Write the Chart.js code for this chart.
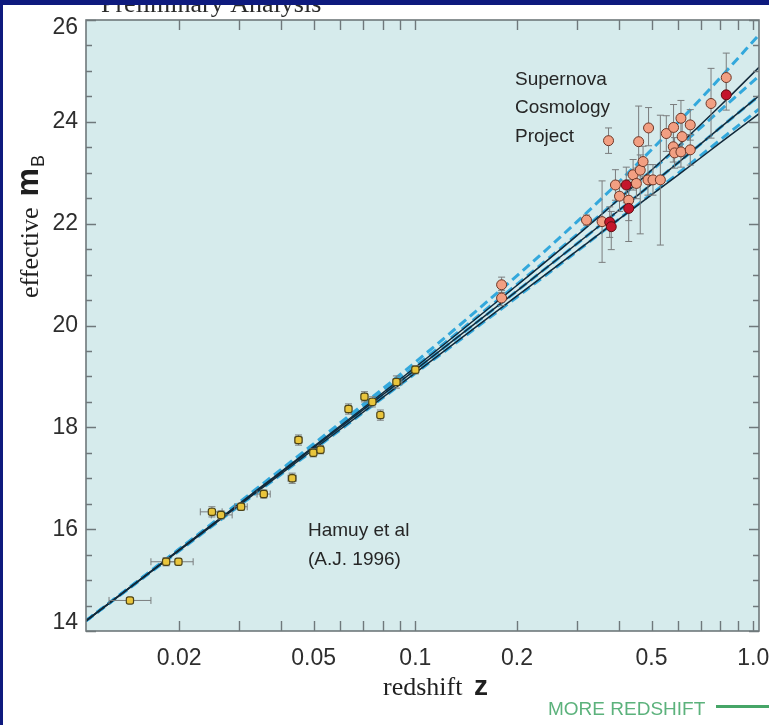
<!DOCTYPE html>
<html>
<head>
<meta charset="utf-8">
<script src="https://cdn.jsdelivr.net/npm/chart.js@4.4.1/dist/chart.umd.min.js"></script>
<style>
  html, body { margin: 0; padding: 0; background: #ffffff; }
  #wrap { position: relative; width: 769px; height: 725px; overflow: hidden; }
  canvas { display: block; }
</style>
</head>
<body>
<div id="wrap"><canvas id="hubble" width="769" height="725"></canvas></div>
<script>
// ---- Model curves (effective m_B versus redshift) ----
const modelZ = [0.0106, 0.03, 0.1, 0.2, 0.3, 0.45, 0.6, 0.8, 1.04];
const mFlatLambda1 = [14.20, 16.52, 19.28, 20.98, 22.03, 23.15, 23.99, 24.87, 25.71]; // (0, 1)
const mFlatHalf = [14.20, 16.50, 19.20, 20.81, 21.78, 22.78, 23.50, 24.23, 24.90];    // (0.5, 0.5)
const mFlatNegLambda = [14.20, 16.45, 19.06, 20.56, 21.45, 22.35, 22.99, 23.65, 24.25]; // (1.5, -0.5)
const mEinsteinDeSitter = [14.20, 16.48, 19.13, 20.68, 21.60, 22.53, 23.20, 23.89, 24.51]; // (1, 0)
const mOpenEmpty = [14.20, 16.49, 19.18, 20.79, 21.76, 22.78, 23.53, 24.32, 25.07];   // (0, 0)
const mClosed2 = [14.20, 16.46, 19.07, 20.58, 21.46, 22.34, 22.96, 23.59, 24.16];     // (2, 0)

// ---- Calan/Tololo low-redshift sample ----
const hamuyZ    = [0.0143, 0.0183, 0.0199, 0.0250, 0.0266, 0.0305, 0.0356, 0.0432, 0.0451, 0.0499, 0.0524, 0.0634, 0.0707, 0.0746, 0.0788, 0.0879, 0.1000];
const hamuyM    = [14.60, 15.36, 15.36, 16.34, 16.28, 16.44, 16.69, 17.00, 17.75, 17.50, 17.56, 18.36, 18.60, 18.50, 18.24, 18.89, 19.13];
const hamuyZLo  = [0.0124, 0.0165, 0.0182, 0.0231, 0.0249, 0.0292, 0.0340, 0.0420, 0.0440, 0.0489, 0.0514, 0.0622, 0.0694, 0.0733, 0.0777, 0.0860, 0.0990];
const hamuyZHi  = [0.0165, 0.0200, 0.0220, 0.0268, 0.0287, 0.0318, 0.0372, 0.0444, 0.0462, 0.0509, 0.0534, 0.0646, 0.0720, 0.0759, 0.0799, 0.0912, 0.1010];
const hamuyMErr = [0.05, 0.08, 0.06, 0.10, 0.08, 0.07, 0.08, 0.10, 0.10, 0.08, 0.08, 0.10, 0.10, 0.10, 0.10, 0.12, 0.08];

// ---- Supernova Cosmology Project sample ----
const scpZ     = [0.180, 0.180, 0.321, 0.357, 0.373, 0.391, 0.402, 0.428, 0.441, 0.451, 0.458, 0.463, 0.472, 0.490, 0.488, 0.505, 0.531, 0.553, 0.581, 0.580, 0.585, 0.611, 0.616, 0.611, 0.651, 0.651, 0.750, 0.832];
const scpM     = [20.80, 20.54, 22.07, 22.04, 23.63, 22.76, 22.54, 22.46, 22.96, 22.79, 23.61, 23.05, 23.22, 23.88, 22.86, 22.86, 22.86, 23.77, 23.89, 23.51, 23.39, 24.07, 23.71, 23.41, 23.94, 23.45, 24.36, 24.87];
const scpErrLo = [0.15, 0.15, 0.10, 0.80, 0.25, 0.30, 0.30, 0.40, 0.30, 0.30, 0.50, 1.25, 0.30, 0.35, 0.30, 0.30, 1.28, 0.35, 0.40, 0.30, 0.30, 0.35, 0.30, 0.30, 0.30, 0.30, 0.68, 0.35];
const scpErrHi = [0.15, 0.15, 0.10, 0.80, 0.25, 0.30, 0.30, 0.40, 0.30, 0.30, 0.70, 0.30, 0.30, 0.40, 0.30, 0.30, 1.27, 0.35, 0.45, 0.30, 0.30, 0.35, 0.30, 0.30, 0.30, 0.30, 0.69, 0.48];

const scpRedZ     = [0.376, 0.380, 0.421, 0.428, 0.832];
const scpRedM     = [22.03, 21.94, 22.76, 22.30, 24.53];
const scpRedErrLo = [0.30, 0.45, 0.35, 0.65, 0.30];
const scpRedErrHi = [0.30, 0.30, 0.35, 0.45, 0.30];

// ---- Axes ----
const xMin = 0.0106, xMax = 1.04;
const yMin = 14, yMax = 26;
const xTickValues = [0.02, 0.03, 0.04, 0.05, 0.06, 0.07, 0.08, 0.09, 0.1, 0.2, 0.3, 0.4, 0.5, 0.6, 0.7, 0.8, 0.9, 1.0];
const xLabelValues = [0.02, 0.05, 0.1, 0.2, 0.5, 1.0];
const xLabelTexts = ['0.02', '0.05', '0.1', '0.2', '0.5', '1.0'];
const yLabelValues = [14, 16, 18, 20, 22, 24, 26];
const yLabelTexts = ['14', '16', '18', '20', '22', '24', '26'];

const SANS = '"Liberation Sans", Arial, sans-serif';
const SERIF = '"Liberation Serif", "Times New Roman", serif';

const pts = (xs, ys) => xs.map((x, i) => ({ x: x, y: ys[i] }));

function curve(label, ys, color, width, dash, order) {
  return {
    label: label, data: pts(modelZ, ys), showLine: true, borderColor: color,
    borderWidth: width, borderDash: dash, pointRadius: 0, pointHoverRadius: 0,
    cubicInterpolationMode: 'monotone', fill: false, order: order
  };
}

const DASH = '#33a8dc';
const SOLID = '#12293a';

const datasets = [
  curve('Ω=(0,1)', mFlatLambda1, DASH, 3, [9, 5], 9),
  curve('Ω=(0.5,0.5)', mFlatHalf, DASH, 3, [9, 5], 9),
  curve('Ω=(1,0) flat', mEinsteinDeSitter, DASH, 3, [9, 5], 9),
  curve('Ω=(1.5,-0.5)', mFlatNegLambda, DASH, 3, [9, 5], 9),
  curve('Ω=(0,0)', mOpenEmpty, SOLID, 1.5, [], 8),
  curve('Ω=(1,0)', mEinsteinDeSitter, SOLID, 1.5, [], 8),
  curve('Ω=(2,0)', mClosed2, SOLID, 1.5, [], 8),
  {
    label: 'Hamuy et al', data: pts(hamuyZ, hamuyM), pointStyle: 'rectRounded',
    pointRadius: 4.2, backgroundColor: '#e9c53c', borderColor: '#4d4418', borderWidth: 1.2, order: 3
  },
  {
    label: 'SCP', data: pts(scpZ, scpM), pointStyle: 'circle',
    pointRadius: 5, backgroundColor: '#f29f82', borderColor: '#6e3626', borderWidth: 1, order: 2
  },
  {
    label: 'SCP (red)', data: pts(scpRedZ, scpRedM), pointStyle: 'circle',
    pointRadius: 5, backgroundColor: '#c4162c', borderColor: '#5e0f12', borderWidth: 1, order: 1
  }
];
const HAMUY_INDEX = 7;

// Error bars, drawn just before the first point set so markers sit on top.
let barsDone = false;
const errorBars = {
  id: 'errorBars',
  beforeDatasetsDraw() { barsDone = false; },
  beforeDatasetDraw(chart, args) {
    if (barsDone || args.index < HAMUY_INDEX) return;
    barsDone = true;
    const { ctx, chartArea: a } = chart;
    const xs = chart.scales.x, ys = chart.scales.y;
    ctx.save();
    ctx.beginPath();
    ctx.rect(a.left, a.top, a.right - a.left, a.bottom - a.top);
    ctx.clip();
    ctx.strokeStyle = '#7a7d7e';
    ctx.lineWidth = 1;
    const cap = 3.5;
    function vbar(z, lo, hi) {
      const px = xs.getPixelForValue(z);
      const p1 = ys.getPixelForValue(lo), p2 = ys.getPixelForValue(hi);
      ctx.beginPath();
      ctx.moveTo(px, p1); ctx.lineTo(px, p2);
      ctx.moveTo(px - cap, p1); ctx.lineTo(px + cap, p1);
      ctx.moveTo(px - cap, p2); ctx.lineTo(px + cap, p2);
      ctx.stroke();
    }
    function hbar(m, zlo, zhi) {
      const py = ys.getPixelForValue(m);
      const p1 = xs.getPixelForValue(zlo), p2 = xs.getPixelForValue(zhi);
      ctx.beginPath();
      ctx.moveTo(p1, py); ctx.lineTo(p2, py);
      ctx.moveTo(p1, py - cap); ctx.lineTo(p1, py + cap);
      ctx.moveTo(p2, py - cap); ctx.lineTo(p2, py + cap);
      ctx.stroke();
    }
    hamuyZ.forEach((z, i) => {
      hbar(hamuyM[i], hamuyZLo[i], hamuyZHi[i]);
      vbar(z, hamuyM[i] - hamuyMErr[i], hamuyM[i] + hamuyMErr[i]);
    });
    scpZ.forEach((z, i) => vbar(z, scpM[i] - scpErrLo[i], scpM[i] + scpErrHi[i]));
    scpRedZ.forEach((z, i) => vbar(z, scpRedM[i] - scpRedErrLo[i], scpRedM[i] + scpRedErrHi[i]));
    ctx.restore();
  }
};

// Plot panel, frame, inward ticks, tick labels, titles and annotations.
const panel = {
  id: 'panel',
  beforeDraw(chart) {
    const { ctx, chartArea: a } = chart;
    ctx.save();
    ctx.fillStyle = '#ffffff';
    ctx.fillRect(0, 0, chart.width, chart.height);
    ctx.fillStyle = '#d6ebec';
    ctx.fillRect(a.left, a.top, a.right - a.left, a.bottom - a.top);
    ctx.restore();
  },
  afterDatasetsDraw(chart) {
    const { ctx, chartArea: a } = chart;
    const xs = chart.scales.x, ys = chart.scales.y;
    ctx.save();
    ctx.strokeStyle = '#6f787b';
    ctx.lineWidth = 1.4;
    ctx.beginPath();
    xTickValues.forEach(v => {
      const px = Math.round(xs.getPixelForValue(v)) + 0.5;
      ctx.moveTo(px, a.bottom); ctx.lineTo(px, a.bottom - 10);
      ctx.moveTo(px, a.top); ctx.lineTo(px, a.top + 10);
    });
    for (let v = yMin; v <= yMax + 1e-9; v += 0.5) {
      const py = Math.round(ys.getPixelForValue(v)) + 0.5;
      const len = (Math.abs(v % 2) < 1e-9) ? 10 : 6;
      ctx.moveTo(a.left, py); ctx.lineTo(a.left + len, py);
      ctx.moveTo(a.right, py); ctx.lineTo(a.right - len, py);
    }
    ctx.stroke();
    ctx.lineWidth = 1.6;
    ctx.strokeRect(a.left, a.top, a.right - a.left, a.bottom - a.top);

    // tick labels
    ctx.fillStyle = '#2e2e2e';
    ctx.font = '23px ' + SANS;
    ctx.textAlign = 'center';
    ctx.textBaseline = 'alphabetic';
    xLabelValues.forEach((v, i) => {
      ctx.fillText(xLabelTexts[i], xs.getPixelForValue(v), a.bottom + 34);
    });
    ctx.textAlign = 'right';
    ctx.textBaseline = 'middle';
    yLabelValues.forEach((v, i) => {
      let py = ys.getPixelForValue(v);
      py = Math.min(Math.max(py, a.top + 8), a.bottom - 8);
      ctx.fillText(yLabelTexts[i], a.left - 8, py);
    });
    ctx.restore();
  },
  afterDraw(chart) {
    const { ctx } = chart;
    ctx.save();
    ctx.fillStyle = '#1f1f1f';

    // axis titles
    ctx.textBaseline = 'alphabetic';
    ctx.textAlign = 'left';
    ctx.font = '26px ' + SERIF;
    ctx.fillText('redshift', 383, 695);
    ctx.font = 'bold 28px ' + SANS;
    ctx.fillText('z', 474, 695);

    ctx.save();
    ctx.translate(38, 298);
    ctx.rotate(-Math.PI / 2);
    ctx.font = '26px ' + SERIF;
    ctx.fillText('effective', 0, 0);
    const w = ctx.measureText('effective').width;
    ctx.font = 'bold 32px ' + SANS;
    ctx.fillText('m', w + 11, 0);
    const wm = ctx.measureText('m').width;
    ctx.font = '18px ' + SANS;
    ctx.fillText('B', w + 11 + wm + 1, 6);
    ctx.restore();

    // annotations
    ctx.font = '19px ' + SANS;
    ctx.fillStyle = '#262626';
    ctx.fillText('Supernova', 515, 85);
    ctx.fillText('Cosmology', 515, 113);
    ctx.fillText('Project', 515, 142);
    ctx.fillText('Hamuy et al', 308, 536);
    ctx.fillText('(A.J. 1996)', 308, 565);

    // heading, partly hidden under the top band
    ctx.font = '26px ' + SERIF;
    ctx.fillStyle = '#2a2a2a';
    ctx.fillText('Preliminary Analysis', 101, 12);

    // frame bands
    ctx.fillStyle = '#0e1a7e';
    ctx.fillRect(0, 0, chart.width, 5);
    ctx.fillRect(0, 0, 3, chart.height);

    // footer cue
    ctx.font = '19px ' + SANS;
    ctx.fillStyle = '#5cb27c';
    ctx.fillText('MORE REDSHIFT', 548, 715);
    ctx.fillStyle = '#46a567';
    ctx.fillRect(716, 705, 53, 3);
    ctx.restore();
  }
};

new Chart(document.getElementById('hubble'), {
  type: 'scatter',
  data: { datasets: datasets },
  options: {
    responsive: false,
    animation: false,
    devicePixelRatio: 1,
    layout: { padding: { left: 86, right: 10, top: 20, bottom: 94 } },
    plugins: { legend: { display: false }, tooltip: { enabled: false } },
    scales: {
      x: { type: 'logarithmic', min: xMin, max: xMax, display: false },
      y: { type: 'linear', min: yMin, max: yMax, display: false }
    }
  },
  plugins: [panel, errorBars]
});
</script>
</body>
</html>
